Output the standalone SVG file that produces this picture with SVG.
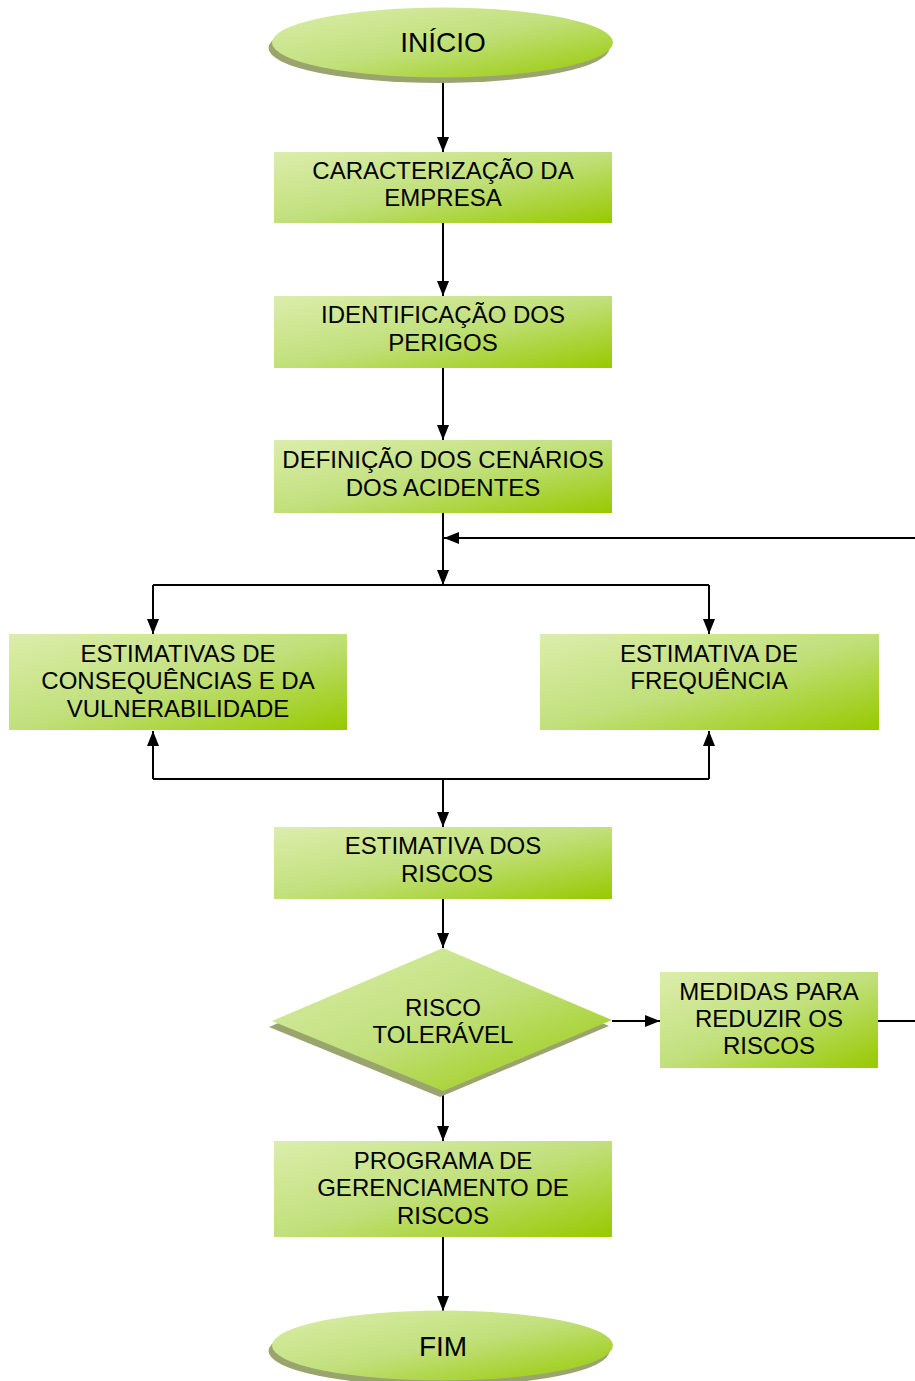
<svg xmlns="http://www.w3.org/2000/svg" width="915" height="1381" viewBox="0 0 915 1381">
<defs>
<linearGradient id="g" x1="0" y1="0" x2="1" y2="1">
<stop offset="0" stop-color="#dcedab"/>
<stop offset="0.5" stop-color="#c1e07c"/>
<stop offset="1" stop-color="#97c900"/>
</linearGradient>
<marker id="ah" viewBox="0 0 15 12" refX="15" refY="6" markerWidth="15" markerHeight="12" markerUnits="userSpaceOnUse" orient="auto">
<path d="M0,0 L15,6 L0,12 z" fill="#000"/>
</marker>
<style>
.n{fill:url(#g);}
.sh{fill:#9aa46d;}
.t{font-family:"Liberation Sans",Arial,sans-serif;font-size:24px;fill:#000;text-anchor:middle;}
.tb{font-family:"Liberation Sans",Arial,sans-serif;font-size:28px;fill:#000;text-anchor:middle;}
.c{fill:none;stroke:#000;stroke-width:2;}
.a{marker-end:url(#ah);}
</style>
</defs>
<g id="connectors">
<path class="c a" d="M443,80 V152"/>
<path class="c a" d="M443,223 V296"/>
<path class="c a" d="M443,368 V440"/>
<path class="c a" d="M443,513 V585"/>
<path class="c" d="M153,585 H709"/>
<path class="c a" d="M153,585 V634"/>
<path class="c a" d="M709,585 V634"/>
<path class="c a" d="M878,1021 H920 V538 H444"/>
<path class="c" d="M153,779 H709"/>
<path class="c a" d="M153,779 V731"/>
<path class="c a" d="M709,779 V731"/>
<path class="c a" d="M443,779 V827"/>
<path class="c a" d="M443,899 V948"/>
<path class="c a" d="M612,1021 H660"/>
<path class="c a" d="M443,1091 V1141"/>
<path class="c a" d="M443,1237 V1311"/>
</g>
<g id="inicio">
<ellipse class="sh" cx="439" cy="48" rx="170.5" ry="35"/>
<ellipse class="n" cx="442.5" cy="42.5" rx="170.5" ry="35"/>
<text class="tb" x="443" y="52">INÍCIO</text>
</g>
<g id="caracterizacao">
<rect class="n" x="274" y="152" width="338" height="71"/>
<text class="t" x="443" y="179">CARACTERIZAÇÃO DA</text>
<text class="t" x="443" y="206">EMPRESA</text>
</g>
<g id="identificacao">
<rect class="n" x="274" y="296" width="338" height="72"/>
<text class="t" x="443" y="323">IDENTIFICAÇÃO DOS</text>
<text class="t" x="443" y="351">PERIGOS</text>
</g>
<g id="definicao">
<rect class="n" x="274" y="440" width="338" height="73"/>
<text class="t" x="443" y="468">DEFINIÇÃO DOS CENÁRIOS</text>
<text class="t" x="443" y="496">DOS ACIDENTES</text>
</g>
<g id="consequencias">
<rect class="n" x="9" y="634" width="338" height="96"/>
<text class="t" x="178" y="662">ESTIMATIVAS DE</text>
<text class="t" x="178" y="689">CONSEQUÊNCIAS E DA</text>
<text class="t" x="178" y="717">VULNERABILIDADE</text>
</g>
<g id="frequencia">
<rect class="n" x="540" y="634" width="339" height="96"/>
<text class="t" x="709" y="662">ESTIMATIVA DE</text>
<text class="t" x="709" y="689">FREQUÊNCIA</text>
</g>
<g id="riscos">
<rect class="n" x="274" y="827" width="338" height="72"/>
<text class="t" x="443" y="854">ESTIMATIVA DOS</text>
<text class="t" x="447" y="882">RISCOS</text>
</g>
<g id="toleravel">
<polygon class="sh" points="440,954 609,1026 440,1097 269,1027"/>
<polygon class="n" points="443,948 612,1020 443,1091 272,1021"/>
<text class="t" x="443" y="1016">RISCO</text>
<text class="t" x="443" y="1043">TOLERÁVEL</text>
</g>
<g id="medidas">
<rect class="n" x="660" y="972" width="218" height="96"/>
<text class="t" x="769" y="1000">MEDIDAS PARA</text>
<text class="t" x="769" y="1027">REDUZIR OS</text>
<text class="t" x="769" y="1054">RISCOS</text>
</g>
<g id="programa">
<rect class="n" x="274" y="1141" width="338" height="96"/>
<text class="t" x="443" y="1169">PROGRAMA DE</text>
<text class="t" x="443" y="1196">GERENCIAMENTO DE</text>
<text class="t" x="443" y="1224">RISCOS</text>
</g>
<g id="fim">
<ellipse class="sh" cx="439" cy="1351" rx="170.5" ry="35"/>
<ellipse class="n" cx="442.5" cy="1345.5" rx="170.5" ry="35"/>
<text class="tb" x="443" y="1356">FIM</text>
</g>
</svg>
